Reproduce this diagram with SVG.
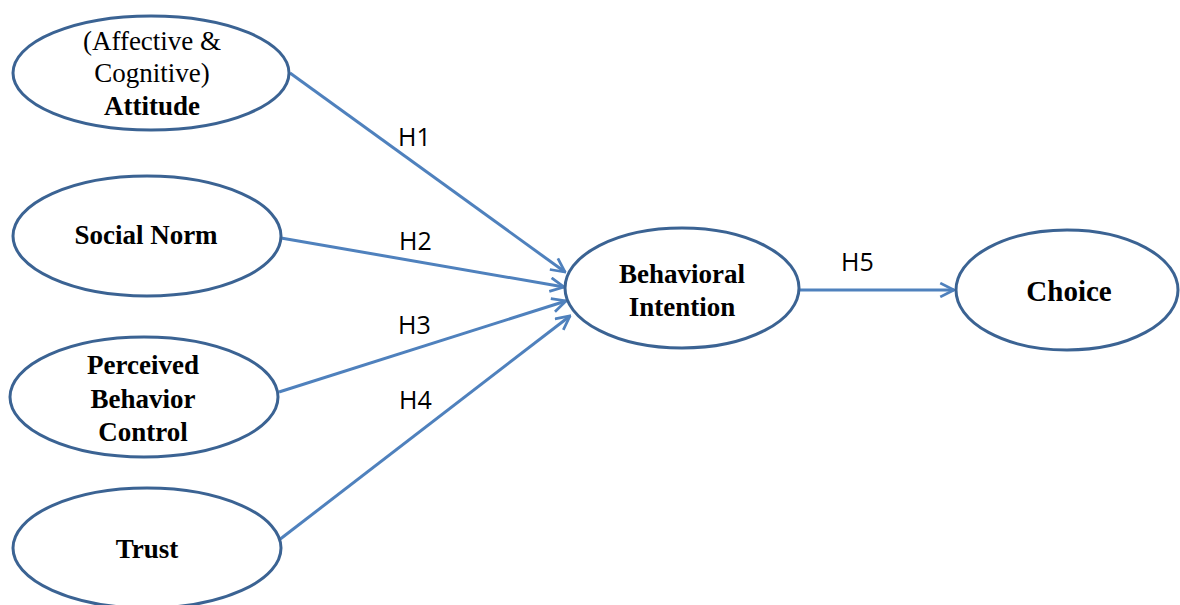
<svg xmlns="http://www.w3.org/2000/svg" width="1180" height="605" viewBox="0 0 1180 605">
<style>
.node{fill:#fff;stroke:#3b6393;stroke-width:3}
.t{font-family:"Liberation Serif",serif;font-size:27px;fill:#000;text-anchor:middle}
.b{font-weight:bold}
.lbl{font-family:"Open Sans","Liberation Sans",sans-serif;font-size:25px;fill:#000}
.c{stroke:#4f81bd;stroke-width:3;fill:none;marker-end:url(#ah)}
</style>
<defs>
<marker id="ah" viewBox="0 0 12 12" refX="11" refY="6" markerWidth="5.5" markerHeight="5.5" markerUnits="strokeWidth" orient="auto">
<path d="M1,1 L11,6 L1,11" fill="none" stroke="#4f81bd" stroke-width="2"/>
</marker>
</defs>
<rect width="1180" height="605" fill="#fff"/>
<g id="connectors">
<line class="c" x1="290" y1="73" x2="565" y2="272"/>
<line class="c" x1="281" y1="238" x2="564" y2="287"/>
<line class="c" x1="279" y1="392" x2="566" y2="301"/>
<line class="c" x1="279" y1="540" x2="570" y2="316"/>
<line class="c" x1="800" y1="290" x2="954" y2="290"/>
<text class="lbl" x="398" y="146">H1</text>
<text class="lbl" x="399" y="250">H2</text>
<text class="lbl" x="398" y="334">H3</text>
<text class="lbl" x="399" y="409">H4</text>
<text class="lbl" x="841" y="271">H5</text>
</g>
<g id="attitude">
<ellipse class="node" cx="151" cy="73" rx="138" ry="57"/>
<text class="t" x="152" y="50">(Affective &amp;</text>
<text class="t" x="152" y="82">Cognitive)</text>
<text class="t b" x="152" y="115">Attitude</text>
</g>
<g id="social-norm">
<ellipse class="node" cx="147" cy="236" rx="134" ry="60"/>
<text class="t b" x="146" y="244">Social Norm</text>
</g>
<g id="pbc">
<ellipse class="node" cx="144" cy="397" rx="134" ry="60"/>
<text class="t b" x="143" y="374">Perceived</text>
<text class="t b" x="143" y="408">Behavior</text>
<text class="t b" x="143" y="441">Control</text>
</g>
<g id="trust">
<ellipse class="node" cx="147" cy="548" rx="134" ry="60"/>
<text class="t b" x="147" y="558">Trust</text>
</g>
<g id="behavioral-intention">
<ellipse class="node" cx="682" cy="288" rx="117" ry="60"/>
<text class="t b" x="682" y="283">Behavioral</text>
<text class="t b" x="682" y="316">Intention</text>
</g>
<g id="choice">
<ellipse class="node" cx="1067" cy="290" rx="111" ry="60"/>
<text class="t b" x="1069" y="301" style="font-size:29px">Choice</text>
</g>
</svg>
